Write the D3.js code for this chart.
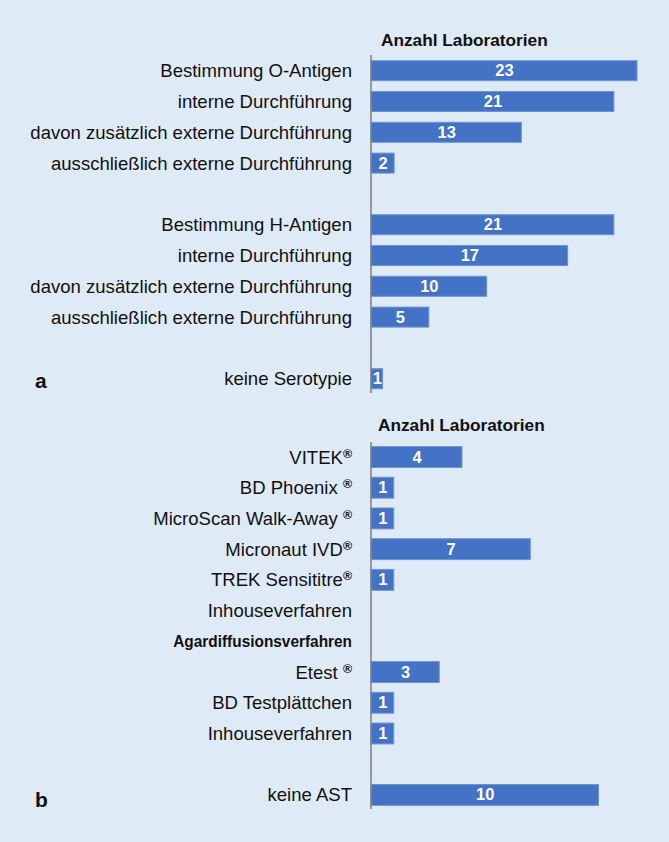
<!DOCTYPE html>
<html><head><meta charset="utf-8">
<script src="https://cdn.jsdelivr.net/npm/d3@7"></script>
<style>html,body{margin:0;padding:0;background:#dfeaf7;}svg{display:block;}</style>
</head><body>
<svg id="c" width="669" height="842"></svg>
<script>
// ---- data ----
const labelsA = ["Bestimmung O-Antigen","interne Durchführung","davon zusätzlich externe Durchführung","ausschließlich externe Durchführung","",
  "Bestimmung H-Antigen","interne Durchführung","davon zusätzlich externe Durchführung","ausschließlich externe Durchführung","","keine Serotypie"];
const valuesA = [23,21,13,2,null,21,17,10,5,null,1];
const labelsB = ["VITEK","BD Phoenix ","MicroScan Walk-Away ","Micronaut IVD","TREK Sensititre","Inhouseverfahren","Agardiffusionsverfahren",
  "Etest ","BD Testplättchen","Inhouseverfahren","","keine AST"];
const valuesB = [4,1,1,7,1,null,null,3,1,1,null,10];
const regB = [true,true,true,true,true,false,false,true,false,false,false,false];
const headerB = [false,false,false,false,false,false,true,false,false,false,false,false];
const axisTitle = "Anzahl Laboratorien";
const panelNames = ["a","b"];

const svg = d3.select("#c");
svg.append("rect").attr("width",669).attr("height",842).attr("fill","#dfeaf7");
const FONT = "'Liberation Sans', Arial, sans-serif";
const BAR = "#4472c4", BARSTROKE = "#6e93d3";

// measure label width to compute horizontal compression
const probe = svg.append("text").attr("font-family",FONT).attr("font-size",18).text("davon zusätzlich externe Durchführung");
const sx = 322 / probe.node().getComputedTextLength();
probe.remove();
const probeT = svg.append("text").attr("font-family",FONT).attr("font-size",16).attr("font-weight","bold").text(axisTitle);
const sxT = 167 / probeT.node().getComputedTextLength();
probeT.remove();
const probeH = svg.append("text").attr("font-family",FONT).attr("font-size",16).attr("font-weight","bold").text("Agardiffusionsverfahren");
const sxH = 179 / probeH.node().getComputedTextLength();
probeH.remove();

function panel(opt){
  const idx = d3.range(opt.labels.length);
  const y = d3.scaleBand().domain(idx)
    .range([opt.c0 - opt.step/2, opt.c0 - opt.step/2 + opt.step*idx.length])
    .paddingInner(opt.pad).paddingOuter(opt.pad/2);
  const x = d3.scaleLinear().domain([0,opt.max]).range([371,opt.xmax]);
  const g = svg.append("g");
  // title
  g.append("text").attr("transform",`translate(${opt.titleX},${opt.titleY}) scale(${sxT},1)`)
    .attr("font-family",FONT).attr("font-size",16).attr("font-weight","bold").attr("fill","#111")
    .text(axisTitle);
  // bars
  const rows = idx.filter(i=>opt.values[i]!=null);
  g.selectAll("rect.bar").data(rows).join("rect").attr("class","bar")
    .attr("x",x(0)).attr("y",i=>y(i)).attr("width",i=>x(opt.values[i])-x(0)).attr("height",y.bandwidth())
    .attr("fill",BAR).attr("stroke",BARSTROKE).attr("stroke-width",1);
  g.selectAll("text.val").data(rows).join("text").attr("class","val")
    .attr("transform",i=>`translate(${(x(0)+x(opt.values[i]))/2+0.5},${y(i)+y.bandwidth()/2+5.5}) scale(${sx},1)`)
    .attr("text-anchor","middle").attr("font-family",FONT).attr("font-size",16).attr("font-weight","bold")
    .attr("fill","#fff").text(i=>opt.values[i]);
  // category labels
  const isH = i => opt.header && opt.header[i];
  const lab = g.selectAll("text.lab").data(idx.filter(i=>opt.labels[i]!=="")).join("text").attr("class","lab")
    .attr("transform",i=>`translate(352,${y(i)+y.bandwidth()/2+(isH(i)?5.5:6.5)}) scale(${isH(i)?sxH:sx},1)`)
    .attr("text-anchor","end").attr("font-family",FONT)
    .attr("font-size",i=>isH(i)?16:18)
    .attr("font-weight",i=>isH(i)?"bold":"normal")
    .attr("fill","#111");
  lab.each(function(i){
    const t = d3.select(this);
    t.append("tspan").text(opt.labels[i]);
    if(opt.reg && opt.reg[i]) t.append("tspan").attr("font-size",12).attr("font-weight","bold").attr("dy",-6).text("®");
  });
  // axis line
  g.append("line").attr("x1",371).attr("x2",371).attr("y1",opt.ax0).attr("y2",opt.ax1)
    .attr("stroke","#7f7f7f").attr("stroke-width",1.5);
  // panel letter
  g.append("text").attr("x",35).attr("y",opt.letterY).attr("font-family",FONT).attr("font-size",21)
    .attr("font-weight","bold").attr("fill","#111").text(opt.name);
}

panel({labels:labelsA, values:valuesA, max:23, xmax:637, c0:70.7, step:30.8, pad:0.35,
  titleX:381, titleY:46, ax0:55, ax1:393, letterY:388, name:panelNames[0]});
panel({labels:labelsB, values:valuesB, reg:regB, header:headerB, max:10, xmax:598.5, c0:457, step:30.72, pad:0.32,
  titleX:378, titleY:431, ax0:442, ax1:809, letterY:807, name:panelNames[1]});
</script>
</body></html>
